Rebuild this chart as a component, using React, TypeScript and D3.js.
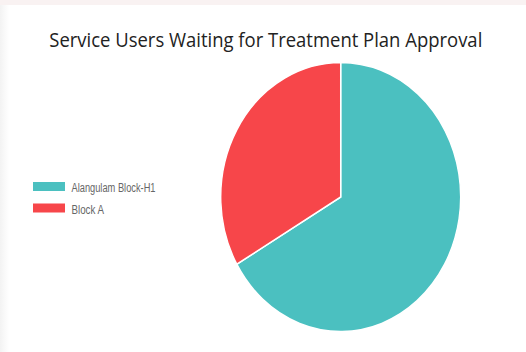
import React from "react";
import * as d3 from "d3";

const labels = ["Alangulam Block-H1", "Block A"];
const values = [2, 1];
const colors = ["#4BC0C0", "#F7464A"];
const title = "Service Users Waiting for Treatment Plan Approval";
const legendTextWidths = [84, 32.5];

export default function App() {
  const W = 526, H = 352;
  const cx = 340.7, cy = 197, r = 134.5, sx = 0.892;
  const pie = d3.pie<number>().sort(null).value((d) => d);
  const arcs = pie(values);
  const arc = d3.arc<d3.PieArcDatum<number>>().innerRadius(0).outerRadius(r);
  return (
    <svg width={W} height={H} style={{ position: "absolute", left: 0, top: 0 }}>
      <defs>
        <linearGradient id="lsh" x1="0" x2="1" y1="0" y2="0">
          <stop offset="0" stopColor="#f3f3f3" />
          <stop offset="1" stopColor="#ffffff" />
        </linearGradient>
      </defs>
      <rect x={0} y={0} width={W} height={H} fill="#ffffff" />
      <rect x={0} y={0} width={W} height={5} fill="#f9f2f2" />
      <rect x={0} y={5} width={9} height={H - 5} fill="url(#lsh)" />
      <text
        x={265.8}
        y={47}
        textAnchor="middle"
        fontFamily="'Open Sans', 'Noto Sans', sans-serif"
        fontSize={20}
        fill="#222"
        textLength={433}
        lengthAdjust="spacingAndGlyphs"
      >
        {title}
      </text>
      <g transform={`translate(${cx},${cy}) scale(${sx},1)`}>
        {arcs.map((a, i) => (
          <path key={i} d={arc(a) || ""} fill={colors[i]} stroke="#fff" strokeWidth={1.6} />
        ))}
      </g>
      {labels.map((l, i) => (
        <g key={l} transform={`translate(33,${182 + i * 21.5})`}>
          <rect x={0} y={0} width={32} height={9} fill={colors[i]} />
          <text
            x={38.5}
            y={10}
            fontFamily="'Liberation Sans', Arial, sans-serif"
            fontSize={12}
            fill="#666"
            textLength={legendTextWidths[i]}
            lengthAdjust="spacingAndGlyphs"
          >
            {l}
          </text>
        </g>
      ))}
    </svg>
  );
}
